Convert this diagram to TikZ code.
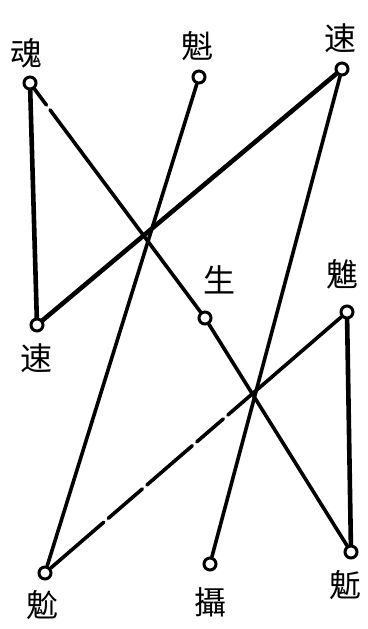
\documentclass[tikz,border=0pt]{standalone}
\usepackage{fontspec}
\newfontfamily\cjk{Noto Sans CJK SC}
\begin{document}
\begin{tikzpicture}[x=1pt,y=-1pt,
  ring/.style={circle,draw,line width=3pt,minimum size=12pt,inner sep=0pt,fill=white},
  lab/.style={font=\cjk\fontsize{32}{32}\selectfont,inner sep=0pt},
  wire/.style={line width=3.6pt,line cap=round},
  heavy/.style={line width=4.6pt,line cap=round}]
\useasboundingbox (0,0) rectangle (367,629);
% circles
\node[ring] (hun)   at (30,83)   {};
\node[ring] (kui)   at (199,77)  {};
\node[ring] (suR)   at (342,69)  {};
\node[ring] (suL)   at (37,325)  {};
\node[ring] (sheng) at (205,318) {};
\node[ring] (kuiR)  at (347,312) {};
\node[ring] (bao)   at (45,573)  {};
\node[ring] (she)   at (210,564) {};
\node[ring] (qi)    at (351,552) {};
% labels
\node[lab] (thun)   at (26,53)   {魂};
\node[lab] (tkui)   at (197,46)  {魁};
\node[lab] (tsuR)   at (340,38)  {速};
\node[lab] (tsuL)   at (36,358)  {速};
\node[lab] (tsheng) at (219,280) {生};
\node[lab] (tkuiR)  at (342,274) {魋};
\node[lab] (tbao)   at (43,605)  {魀};
\node[lab] (tshe)   at (210,602) {攝};
\node[lab] (tqi)    at (345,585) {鬿};
% connectors
\draw[heavy] (hun) -- (suL);
\draw[wire, dash pattern=on 20pt off 6pt on 500pt] (hun) -- (sheng);
\draw[wire] (sheng) -- (qi);
\draw[heavy] (suR) -- (suL);
\draw[wire] (kui) -- (bao);
\draw[wire] (suR) -- (she);
\draw[wire, dash pattern=on 150pt off 6pt on 35pt off 6pt on 60pt off 6pt on 45pt off 6pt on 300pt] (kuiR) -- (bao);
\draw[heavy] (kuiR) -- (qi);
\end{tikzpicture}
\end{document}
